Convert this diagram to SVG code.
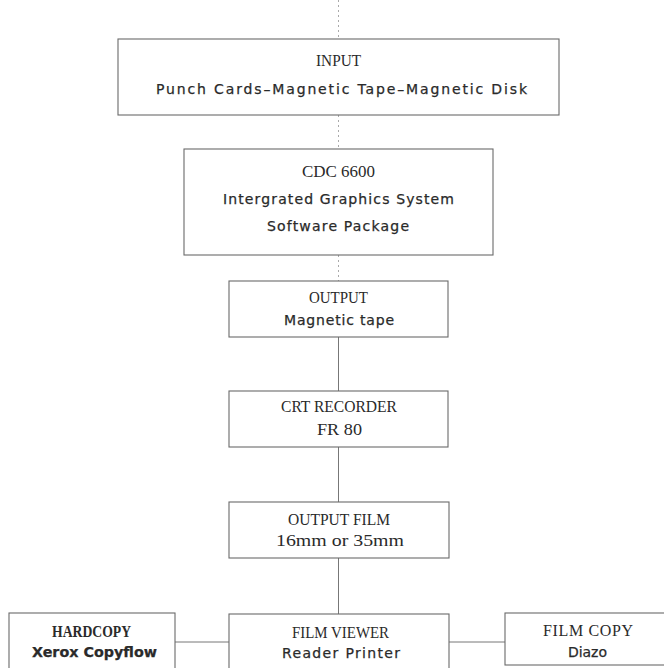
<svg xmlns="http://www.w3.org/2000/svg" width="664" height="668" viewBox="0 0 664 668">
<style>
.box{fill:#fff;stroke:#6a6a6a;stroke-width:1.1}
.t{font-family:"Liberation Serif","DejaVu Serif",serif;font-size:16px;fill:#2a2a2a;text-anchor:middle}
.s{font-family:"DejaVu Sans","Liberation Sans",sans-serif;font-size:14px;fill:#2a2a2a;stroke:#2a2a2a;stroke-width:0.25;text-anchor:middle}
.b{font-weight:bold}
.c{stroke:#777;stroke-width:1;fill:none}
.d{stroke:#aaa;stroke-width:1;fill:none;stroke-dasharray:2 3}
</style>
<rect width="664" height="668" fill="#fff"/>
<g id="connectors">
<line class="d" x1="338.5" y1="0" x2="338.5" y2="39"/>
<line class="d" x1="338.5" y1="115" x2="338.5" y2="149"/>
<line class="d" x1="338.5" y1="255" x2="338.5" y2="281"/>
<line class="c" x1="338.5" y1="337" x2="338.5" y2="391"/>
<line class="c" x1="338.5" y1="447" x2="338.5" y2="502"/>
<line class="c" x1="338.5" y1="558" x2="338.5" y2="614"/>
<line class="c" x1="175" y1="642" x2="229" y2="642"/>
<line class="c" x1="449" y1="642" x2="505" y2="642"/>
</g>
<g id="input">
<rect class="box" x="118" y="39" width="441" height="76"/>
<text class="t" x="338.5" y="66" textLength="45" lengthAdjust="spacingAndGlyphs">INPUT</text>
<text class="s" x="341.5" y="94" textLength="371" lengthAdjust="spacing">Punch Cards–Magnetic Tape–Magnetic Disk</text>
</g>
<g id="cdc">
<rect class="box" x="184" y="149" width="309" height="106"/>
<text class="t" x="338.5" y="177" textLength="73" lengthAdjust="spacingAndGlyphs">CDC 6600</text>
<text class="s" x="338.5" y="204" textLength="231" lengthAdjust="spacing">Intergrated Graphics System</text>
<text class="s" x="338" y="231" textLength="142" lengthAdjust="spacing">Software Package</text>
</g>
<g id="output">
<rect class="box" x="229" y="281" width="219" height="56"/>
<text class="t" x="338.5" y="303" textLength="59" lengthAdjust="spacingAndGlyphs">OUTPUT</text>
<text class="s" x="339" y="325" textLength="110" lengthAdjust="spacing">Magnetic tape</text>
</g>
<g id="crt">
<rect class="box" x="229" y="391" width="219" height="56"/>
<text class="t" x="339" y="412" textLength="116" lengthAdjust="spacingAndGlyphs">CRT RECORDER</text>
<text class="t" x="339.5" y="435" textLength="45" lengthAdjust="spacingAndGlyphs">FR 80</text>
</g>
<g id="outputfilm">
<rect class="box" x="229" y="502" width="220" height="56"/>
<text class="t" x="339" y="525" textLength="102" lengthAdjust="spacingAndGlyphs">OUTPUT FILM</text>
<text class="t" x="340" y="546" textLength="128" lengthAdjust="spacingAndGlyphs">16mm or 35mm</text>
</g>
<g id="filmviewer">
<rect class="box" x="229" y="614" width="220" height="60"/>
<text class="t" x="340.5" y="638" textLength="97" lengthAdjust="spacingAndGlyphs">FILM VIEWER</text>
<text class="s" x="341" y="658" textLength="118" lengthAdjust="spacing">Reader Printer</text>
</g>
<g id="hardcopy">
<rect class="box" x="9" y="613" width="166" height="60"/>
<text class="t b" x="91.5" y="637" textLength="79" lengthAdjust="spacingAndGlyphs">HARDCOPY</text>
<text class="s b" x="94.5" y="657" textLength="125" lengthAdjust="spacingAndGlyphs">Xerox Copyflow</text>
</g>
<g id="filmcopy">
<rect class="box" x="505" y="613" width="170" height="52"/>
<text class="t" x="588" y="636" textLength="90" lengthAdjust="spacing">FILM  COPY</text>
<text class="s" x="587.5" y="657" textLength="39" lengthAdjust="spacing">Diazo</text>
</g>
</svg>
